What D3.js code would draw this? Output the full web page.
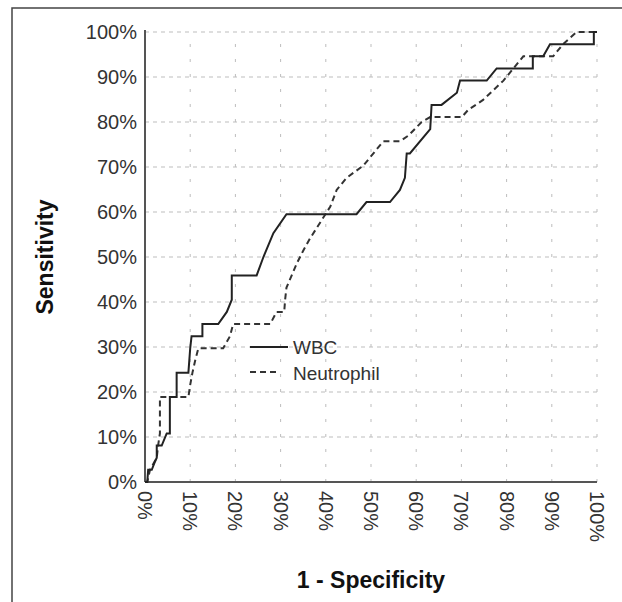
<!DOCTYPE html>
<html lang="en">
<head>
    <meta charset="UTF-8">
    <script src="https://cdn.jsdelivr.net/npm/d3@7"></script>
    <title>ROC curve</title>
    <style>
        body { margin: 0; background: #fff; }
        svg { display: block; font-family: "Liberation Sans", Arial, sans-serif; }
        .grid line { stroke: #bdbdbd; stroke-width: 1; }
        .tick-label { font-size: 20px; fill: #333; }
        .title { font-size: 23px; font-weight: bold; fill: #111; }
    </style>
</head>
<body>
<div id="container"></div>
<script>
    // ROC curve points, values in percent (1 - specificity, sensitivity)
    const wbcX = [0, 0.5, 0.7, 1.5, 2.2, 2.6, 2.6, 3.7, 4.8, 5.5, 5.5, 7.0, 7.0, 9.6, 10.0, 10.3, 12.7, 12.7, 16.2, 18.1, 19.2, 19.2,
        24.7, 26.2, 28.4, 31.3, 46.8, 49.0, 54.2, 56.4, 57.5, 57.9, 58.6, 63.1, 63.4, 65.6, 69.0, 69.7, 75.6, 77.8,
        85.8, 85.8, 88.1, 89.6, 99.3, 99.3, 100]
    const wbcY = [0, 0, 2.7, 2.7, 4.5, 5.4, 8.1, 8.1, 10.8, 10.8, 18.9, 18.9, 24.3, 24.3, 29.7, 32.4, 32.4, 35.1, 35.1, 37.8, 40.5, 45.9,
        45.9, 50.0, 55.3, 59.5, 59.5, 62.2, 62.2, 64.9, 67.6, 73.0, 73.0, 78.4, 83.8, 83.8, 86.5, 89.2, 89.2, 91.9,
        91.9, 94.6, 94.6, 97.3, 97.3, 100, 100]

    const neutX = [0, 0.5, 1.1, 2.6, 2.9, 3.3, 3.3, 9.6, 10.0, 10.5, 11.1, 11.8, 17.3, 18.8, 19.5, 27.7, 29.1, 30.8, 31.0, 31.3,
        33.6, 35.0, 36.5, 41.0, 42.4, 44.6, 48.3, 52.7, 56.4, 58.3, 61.2, 63.1, 70.1, 71.5, 74.8, 79.3, 81.5, 83.7,
        90.3, 92.5, 95.5, 100]
    const neutY = [0, 0, 2.7, 5.4, 8.1, 10.8, 18.9, 18.9, 21.6, 24.3, 27.0, 29.7, 29.7, 32.4, 35.1, 35.1, 37.8, 37.8, 40.5, 43.2,
        48.6, 51.4, 54.1, 61.2, 64.9, 67.6, 70.3, 75.7, 75.7, 77.0, 80.0, 81.1, 81.1, 82.7, 84.9, 89.2, 91.9, 94.6,
        94.6, 97.3, 100, 100]

    const tickValues = [0, 10, 20, 30, 40, 50, 60, 70, 80, 90, 100]
    const seriesNames = ["WBC", "Neutrophil"]

    const width = 622, height = 602
    const plot = { left: 145, right: 597, top: 32, bottom: 482 }

    const x = d3.scaleLinear().domain([0, 100]).range([plot.left, plot.right])
    const y = d3.scaleLinear().domain([0, 100]).range([plot.bottom, plot.top])

    const svg = d3.select("#container").append("svg")
        .attr("width", width)
        .attr("height", height)

    // outer frame (only left/top are inside the picture)
    svg.append("rect")
        .attr("x", 12).attr("y", 8)
        .attr("width", 640).attr("height", 640)
        .attr("fill", "none").attr("stroke", "#444").attr("stroke-width", 1.5)

    // grid
    const grid = svg.append("g").attr("class", "grid")
    grid.selectAll(".h").data(tickValues.slice(1)).enter().append("line")
        .attr("x1", plot.left).attr("x2", plot.right)
        .attr("y1", d => y(d)).attr("y2", d => y(d))
        .attr("stroke-dasharray", "4,4")
    grid.selectAll(".v").data(tickValues.slice(1)).enter().append("line")
        .attr("y1", plot.bottom).attr("y2", plot.top)
        .attr("x1", d => x(d)).attr("x2", d => x(d))
        .attr("stroke-dasharray", "3,12")

    // axes lines
    svg.append("line")
        .attr("x1", plot.left).attr("x2", plot.left)
        .attr("y1", plot.top - 2).attr("y2", plot.bottom)
        .attr("stroke", "#555").attr("stroke-width", 2)
    svg.append("line")
        .attr("x1", plot.left).attr("x2", plot.right)
        .attr("y1", plot.bottom).attr("y2", plot.bottom)
        .attr("stroke", "#555").attr("stroke-width", 2)

    // y tick labels
    svg.selectAll(".ylab").data(tickValues).enter().append("text")
        .attr("class", "tick-label")
        .attr("x", plot.left - 8)
        .attr("y", d => y(d))
        .attr("dy", "0.35em")
        .attr("text-anchor", "end")
        .text(d => d + "%")

    // x tick labels, rotated
    svg.selectAll(".xlab").data(tickValues).enter().append("text")
        .attr("class", "tick-label")
        .attr("transform", d => `translate(${x(d)},${plot.bottom + 9}) rotate(90)`)
        .attr("dy", "0.35em")
        .attr("text-anchor", "start")
        .text(d => d + "%")

    // axis titles
    svg.append("text").attr("class", "title")
        .attr("transform", `translate(53,${(plot.top + plot.bottom) / 2}) rotate(-90)`)
        .attr("text-anchor", "middle")
        .text("Sensitivity")
    svg.append("text").attr("class", "title")
        .attr("x", (plot.left + plot.right) / 2)
        .attr("y", 588)
        .attr("text-anchor", "middle")
        .text("1 - Specificity")

    const line = d3.line().x(d => x(d[0])).y(d => y(d[1]))

    svg.append("path")
        .datum(d3.zip(neutX, neutY))
        .attr("d", line)
        .attr("fill", "none").attr("stroke", "#333").attr("stroke-width", 2)
        .attr("stroke-dasharray", "6,4")

    svg.append("path")
        .datum(d3.zip(wbcX, wbcY))
        .attr("d", line)
        .attr("fill", "none").attr("stroke", "#222").attr("stroke-width", 2)

    // legend
    const legend = svg.append("g").attr("transform", "translate(250,347)")
    legend.append("line").attr("x1", 0).attr("x2", 38).attr("y1", 0).attr("y2", 0)
        .attr("stroke", "#222").attr("stroke-width", 2)
    legend.append("line").attr("x1", 0).attr("x2", 26).attr("y1", 25).attr("y2", 25)
        .attr("stroke", "#333").attr("stroke-width", 2).attr("stroke-dasharray", "6,4")
    legend.selectAll("text").data(seriesNames).enter().append("text")
        .attr("x", 43)
        .attr("y", (d, i) => i * 26)
        .attr("dy", "0.35em")
        .style("font-size", "19px").style("fill", "#333")
        .text(d => d)
</script>
</body>
</html>
